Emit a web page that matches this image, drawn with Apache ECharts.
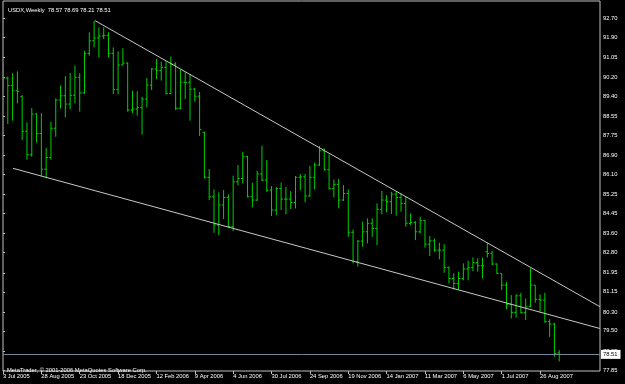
<!DOCTYPE html>
<html><head><meta charset="utf-8">
<script src="https://cdn.jsdelivr.net/npm/echarts@6/dist/echarts.min.js"></script>
<style>html,body{margin:0;padding:0;background:#000}#c{width:625px;height:384px}</style>
</head><body><div id="c"></div>
<script>
const symbolTitle = 'USDX,Weekly  78.57 78.69 78.21 78.51';
const copyright = 'MetaTrader, \u00a9 2001-2006 MetaQuotes Software Corp.';
// weekly bars, index 0 = week of 3 Jul 2005
const xTickIdx = [0, 8, 16, 24, 32, 40, 48, 56, 64, 72, 80, 88, 96, 104, 112];
const xTickLabels = ['3 Jul 2005','28 Aug 2005','23 Oct 2005','18 Dec 2005','12 Feb 2006','9 Apr 2006','4 Jun 2006','30 Jul 2006','24 Sep 2006','19 Nov 2006','14 Jan 2007','11 Mar 2007','6 May 2007','1 Jul 2007','26 Aug 2007'];
const yTickLabels = ['77.85','78.65','79.50','80.30','81.15','81.95','82.80','83.60','84.45','85.25','86.10','86.90','87.75','88.55','89.40','90.20','91.05','91.90','92.70'];

const open = [90.05,90.17,89.85,89.63,89.38,87.92,86.93,88.65,87.83,86.32,
86.82,88.05,89.24,89.42,89.07,89.44,90.20,89.54,91.21,91.74,
91.86,91.94,91.97,91.21,89.68,90.72,90.80,88.82,88.86,88.93,
89.28,89.87,90.55,90.48,90.62,89.52,90.76,88.89,89.99,89.99,
89.70,89.40,87.88,85.98,85.16,83.97,84.81,85.13,83.90,85.79,
85.93,86.85,85.16,85.02,86.12,85.86,85.44,84.60,85.51,85.06,
85.06,84.92,85.98,86.00,85.19,85.98,86.50,87.10,86.30,85.51,
85.68,85.02,85.30,83.66,82.42,83.29,83.68,84.04,83.82,84.63,
85.02,84.95,85.27,85.13,84.88,84.04,84.08,83.68,84.15,83.16,
83.30,82.91,82.91,82.18,81.71,81.50,81.71,82.11,82.18,82.38,
82.25,82.84,82.77,82.32,81.93,81.43,80.62,80.28,80.98,80.27,
80.52,81.43,80.83,80.80,79.89,79.79,78.57];
const high = [90.79,90.23,90.37,90.45,89.45,88.30,88.90,88.68,88.69,87.22,
88.33,89.31,89.85,90.25,90.38,90.69,90.37,91.32,92.10,92.59,
92.31,92.31,92.10,91.46,91.29,91.43,90.83,89.63,89.61,89.38,
90.17,90.59,90.97,90.86,90.87,91.08,90.83,90.53,90.41,90.34,
89.75,89.58,87.90,86.33,85.47,85.34,85.44,85.26,86.05,86.50,
87.06,86.89,85.75,86.26,87.31,86.71,85.61,85.56,85.75,85.58,
85.40,86.03,86.12,86.12,86.46,86.60,87.30,87.20,86.95,85.89,
85.91,85.65,85.47,83.78,83.33,84.11,84.25,84.25,84.88,85.41,
85.23,85.37,85.37,85.30,85.19,84.46,84.13,84.32,84.18,83.50,
83.40,83.22,83.16,82.21,81.93,82.00,82.35,82.46,82.60,82.56,
82.59,83.22,82.87,82.35,81.93,81.57,81.01,81.04,81.11,80.87,
82.14,81.43,81.04,81.11,79.99,79.84,78.69];
const low = [89.70,88.23,88.37,89.10,87.55,86.72,86.85,87.45,86.02,85.95,
86.72,87.69,88.88,88.51,88.85,89.10,88.75,89.50,91.11,91.46,
91.04,91.81,91.04,89.49,89.49,90.70,88.75,88.69,88.58,87.78,
88.93,89.66,90.13,90.06,89.47,89.49,88.82,88.85,89.28,88.37,
89.18,87.72,85.93,85.02,83.64,83.54,84.22,83.85,83.71,85.64,
85.72,85.13,84.71,84.98,85.82,85.37,84.35,84.39,84.60,84.42,
84.64,84.67,85.44,84.92,85.16,85.47,86.46,86.26,85.47,85.13,
84.67,84.98,83.47,82.35,82.21,83.05,83.19,83.47,83.12,84.42,
84.50,84.43,84.36,84.53,83.90,83.97,83.33,83.61,83.01,82.66,
82.84,82.52,81.95,81.50,81.25,81.25,81.64,81.64,82.02,82.00,
81.71,82.60,82.28,81.90,81.22,80.41,80.03,80.06,80.24,79.96,
80.50,80.69,80.31,79.84,79.25,78.41,78.21];
const close = [90.17,89.85,89.63,89.61,87.92,86.93,88.65,87.83,86.32,86.82,
88.05,89.24,89.42,89.07,89.44,90.20,89.54,91.21,91.74,91.86,
91.94,91.97,91.21,89.68,90.72,90.80,88.82,88.86,88.93,89.28,
89.87,90.55,90.48,90.62,89.52,90.76,88.89,89.99,89.99,89.70,
89.40,88.00,85.98,85.16,83.97,84.81,85.13,83.90,85.79,85.93,
86.85,85.16,85.02,86.12,85.86,85.44,84.60,85.51,85.06,85.06,
84.92,85.98,86.00,85.19,85.98,86.50,87.10,86.30,85.51,85.68,
85.02,85.30,83.66,82.42,83.29,83.68,84.04,83.82,84.63,85.02,
84.95,85.27,85.13,84.88,84.04,84.08,83.68,84.15,83.16,83.30,
82.91,82.91,82.18,81.71,81.50,81.71,82.11,82.18,82.38,82.25,
82.25,82.77,82.32,81.93,81.43,80.62,80.28,80.98,80.27,80.52,
81.43,80.83,80.80,79.89,79.79,78.55,78.51];

const lastPrice = 78.51;
// trend lines: [bar index, price] anchor points
const upperTrend = [[19.2, 92.59], [124.5, 80.52]];
const lowerTrend = [[2.08, 86.36], [124.5, 79.60]];

const FONT = 'Liberation Sans';
const FS = 5.8;
const barColor = '#00d000';

const ohlc = open.map((o, i) => [i, o, high[i], low[i], close[i]]);

const chart = echarts.init(document.getElementById('c'), null, {renderer: 'canvas'});
chart.setOption({
  animation: false,
  backgroundColor: '#000000',
  title: [
    {text: symbolTitle, left: 3, top: 2, textStyle: {color: '#ffffff', fontSize: FS, fontWeight: 'normal', fontFamily: FONT}},
    {text: copyright, left: 2, top: 362, textStyle: {color: '#ffffff', fontSize: FS, fontWeight: 'normal', fontFamily: FONT}}
  ],
  grid: {left: 1, right: 25, top: 1, bottom: 13, show: true, borderColor: '#c0c0c0', borderWidth: 1},
  xAxis: {
    type: 'value', min: 0, max: 124.5,
    splitLine: {show: false},
    axisLine: {show: false},
    axisTick: {show: true, length: 3, customValues: xTickIdx, lineStyle: {color: '#c0c0c0'}},
    axisLabel: {
      customValues: xTickIdx, align: 'left', margin: 2,
      color: '#ffffff', fontSize: FS, fontFamily: FONT,
      formatter: v => xTickLabels[xTickIdx.indexOf(v)] || ''
    }
  },
  yAxis: {
    type: 'value', position: 'right', min: 77.808, max: 93.419, scale: true,
    splitLine: {show: false},
    axisLine: {show: false},
    axisTick: {show: true, length: 2, customValues: yTickLabels.map(Number), lineStyle: {color: '#c0c0c0'}},
    axisLabel: {
      customValues: yTickLabels.map(Number), margin: 3,
      color: '#ffffff', fontSize: FS, fontFamily: FONT,
      formatter: v => v.toFixed(2)
    }
  },
  series: [
    {
      type: 'custom',
      data: ohlc,
      encode: {x: 0, y: [1, 2, 3, 4]},
      clip: true,
      renderItem: (params, api) => {
        const i = api.value(0);
        const pH = api.coord([i, api.value(2)]);
        const pL = api.coord([i, api.value(3)]);
        const pO = api.coord([i, api.value(1)]);
        const pC = api.coord([i, api.value(4)]);
        const t = 1.8;
        const st = {stroke: barColor, lineWidth: 1};
        return {type: 'group', children: [
          {type: 'line', shape: {x1: pH[0], y1: pH[1], x2: pL[0], y2: pL[1]}, style: st},
          {type: 'line', shape: {x1: pO[0] - t, y1: pO[1], x2: pO[0], y2: pO[1]}, style: st},
          {type: 'line', shape: {x1: pC[0], y1: pC[1], x2: pC[0] + t, y2: pC[1]}, style: st}
        ]};
      }
    },
    {
      type: 'line', data: upperTrend, symbol: 'none', silent: true, clip: true,
      lineStyle: {color: '#c8c8c8', width: 1}
    },
    {
      type: 'line', data: lowerTrend, symbol: 'none', silent: true, clip: true,
      lineStyle: {color: '#c8c8c8', width: 1},
      markLine: {
        symbol: 'none', silent: true,
        data: [{yAxis: lastPrice}],
        lineStyle: {color: '#778899', type: 'solid', width: 1},
        label: {
          position: 'end', distance: 1, formatter: lastPrice.toFixed(2),
          backgroundColor: '#ffffff', color: '#000000', padding: [2, 3, 1, 2],
          fontSize: FS, fontFamily: FONT
        }
      }
    }
  ]
});
</script></body></html>
